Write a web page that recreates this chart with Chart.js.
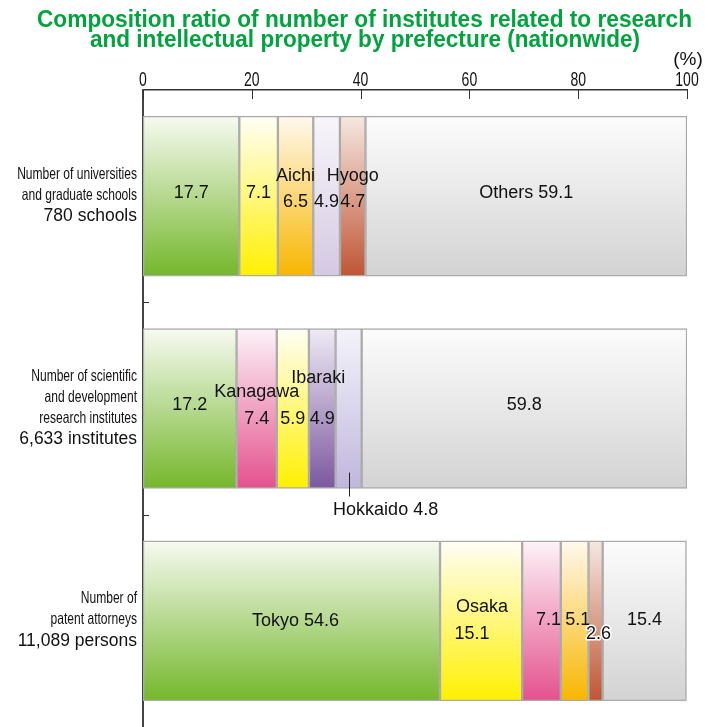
<!DOCTYPE html>
<html>
<head>
<meta charset="utf-8">
<script src="https://cdn.jsdelivr.net/npm/chart.js@4.4.1/dist/chart.umd.min.js"></script>
<style>
  html, body { margin: 0; padding: 0; background: #fff; }
  #wrap { width: 705px; height: 727px; position: relative; }
</style>
</head>
<body>
<div id="wrap"><canvas id="ratioChart"></canvas></div>
<script>
// ---- data ----
const categories = ["Universities", "Research institutes", "Patent attorneys"];
const categoryLines = [
  ["Number of universities", "and graduate schools", "780 schools"],
  ["Number of scientific", "and development", "research institutes", "6,633 institutes"],
  ["Number of", "patent attorneys", "11,089 persons"]
];
const univNames = ["Tokyo", "Osaka", "Aichi", "Hokkaido", "Hyogo", "Others"];
const univValues = [17.7, 7.1, 6.5, 4.9, 4.7, 59.1];
const researchNames = ["Tokyo", "Kanagawa", "Osaka", "Ibaraki", "Hokkaido", "Others"];
const researchValues = [17.2, 7.4, 5.9, 4.9, 4.8, 59.8];
const patentNames = ["Tokyo", "Osaka", "Kanagawa", "Aichi", "Hyogo", "Others"];
const patentValues = [54.6, 15.1, 7.1, 5.1, 2.6, 15.4];
const xTicks = [0, 20, 40, 60, 80, 100];
const titleLines = [
  "Composition ratio of number of institutes related to research",
  "and intellectual property by prefecture (nationwide)"
];

const namesByBar = [univNames, researchNames, patentNames];
const valuesByBar = [univValues, researchValues, patentValues];

// gradient colours, top -> bottom
const palette = {
  Tokyo: ["#f7faf2", "#74b72b"],
  Osaka: ["#fffef6", "#fff000"],
  Aichi: ["#fff9ee", "#f8b600"],
  Kanagawa: ["#fdf3f8", "#e4518d"],
  Hyogo: ["#f6e8e0", "#bf5535"],
  Ibaraki: ["#efebf5", "#7a589d"],
  Hokkaido: ["#f4f3fa", "#bfb7dc"],
  Others: ["#fcfcfc", "#d3d3d3"]
};
const paletteOverride = { "0-3": ["#f8f6fb", "#d5c9e2"] };

// how each segment is labelled ({n} name, {v} value); dy/dx from segment centre
const labelLayout = [
  [
    { lines: ["{v}"], dy: [-3] },
    { lines: ["{v}"], dy: [-3] },
    { lines: ["{n}", "{v}"], dy: [-20, 6] },
    { lines: ["{v}"], dy: [6] },
    { lines: ["{n}", "{v}"], dy: [-20, 6] },
    { lines: ["{n} {v}"], dy: [-3] }
  ],
  [
    { lines: ["{v}"], dy: [-3] },
    { lines: ["{n}", "{v}"], dy: [-16, 11] },
    { lines: ["{v}"], dy: [11] },
    { lines: ["{n}", "{v}"], dy: [-30, 11], dx: [-4, 0] },
    { outside: true },
    { lines: ["{v}"], dy: [-3] }
  ],
  [
    { lines: ["{n} {v}"], dy: [0], dx: [4] },
    { lines: ["{n}", "{v}"], dy: [-14, 13], dx: [1, -9] },
    { lines: ["{v}"], dy: [-1], dx: [7] },
    { lines: ["{v}"], dy: [-1], dx: [3] },
    { lines: ["{v}"], dy: [13], dx: [3], halo: true },
    { lines: ["{v}"], dy: [-1] }
  ]
];

const BAR_H = 160;

function segColor(context) {
  const chart = context.chart;
  if (!chart.chartArea) return null;
  const i = context.dataIndex;
  const r = context.datasetIndex;
  const c = paletteOverride[i + "-" + r] || palette[namesByBar[i][r]];
  const y = chart.scales.y.getPixelForValue(i);
  const g = chart.ctx.createLinearGradient(0, y - BAR_H / 2, 0, y + BAR_H / 2);
  g.addColorStop(0, c[0]);
  g.addColorStop(1, c[1]);
  return g;
}

const datasets = [];
for (let r = 0; r < 6; r++) {
  datasets.push({
    label: "rank " + (r + 1),
    data: valuesByBar.map(v => v[r]),
    backgroundColor: segColor,
    borderColor: "#ababab",
    borderWidth: 1.5,
    borderSkipped: false,
    barThickness: BAR_H
  });
}

const FONT = "'Liberation Sans', Arial, sans-serif";

// draws title, axis ticks, category labels and segment labels
const decorPlugin = {
  id: "decor",
  afterDraw(chart) {
    const ctx = chart.ctx;
    const xs = chart.scales.x;
    const ys = chart.scales.y;
    const area = chart.chartArea;

    ctx.save();
    // title
    ctx.fillStyle = "#00a33e";
    ctx.font = "bold 23px " + FONT;
    ctx.textAlign = "center";
    ctx.textBaseline = "alphabetic";
    ctx.fillText(titleLines[0], 364.5, 27, 655);
    ctx.fillText(titleLines[1], 365, 46.5, 550);

    // (%) unit
    ctx.fillStyle = "#111";
    ctx.font = "19px " + FONT;
    ctx.fillText("(%)", area.right + 1, 65);

    // x tick labels & tick marks (marks go into the plot)
    ctx.strokeStyle = "#333";
    ctx.lineWidth = 1;
    xTicks.forEach(v => {
      const px = xs.getPixelForValue(v);
      ctx.beginPath();
      ctx.moveTo(Math.round(px) + 0.5, area.top);
      ctx.lineTo(Math.round(px) + 0.5, area.top + 9);
      ctx.stroke();
      ctx.save();
      ctx.translate(px, 86);
      ctx.scale(0.7, 1);
      ctx.font = "20px " + FONT;
      ctx.textAlign = "center";
      ctx.fillText(String(v), 0, 0);
      ctx.restore();
    });

    // small ticks between categories on the y axis
    for (let i = 0; i < categories.length - 1; i++) {
      const my = (ys.getPixelForValue(i) + ys.getPixelForValue(i + 1)) / 2;
      ctx.beginPath();
      ctx.moveTo(area.left, Math.round(my) + 0.5);
      ctx.lineTo(area.left + 6, Math.round(my) + 0.5);
      ctx.stroke();
    }

    // category labels
    ctx.textAlign = "right";
    ctx.textBaseline = "middle";
    categoryLines.forEach((lines, i) => {
      const cy = ys.getPixelForValue(i);
      const n = lines.length;
      lines.forEach((t, k) => {
        const ly = cy + (k - (n - 1) / 2) * 21 - 1;
        if (k === n - 1) {
          ctx.font = "17.5px " + FONT;
          ctx.fillText(t, area.left - 6, ly);
        } else {
          ctx.save();
          ctx.translate(area.left - 6, ly);
          ctx.scale(0.73, 1);
          ctx.font = "16.5px " + FONT;
          ctx.fillText(t, 0, 0);
          ctx.restore();
        }
      });
    });

    // segment labels
    ctx.textAlign = "center";
    ctx.font = "18px " + FONT;
    chart.data.datasets.forEach((ds, r) => {
      const meta = chart.getDatasetMeta(r);
      meta.data.forEach((el, i) => {
        const lay = labelLayout[i][r];
        const name = namesByBar[i][r];
        const val = valuesByBar[i][r].toFixed(1);
        const cx = (el.x + el.base) / 2;
        const cy = el.y;
        ctx.fillStyle = "#111";
        if (lay.outside) {
          const bottom = cy + BAR_H / 2;
          ctx.strokeStyle = "#222";
          ctx.lineWidth = 1;
          ctx.beginPath();
          ctx.moveTo(Math.round(cx) + 0.5, bottom - 16);
          ctx.lineTo(Math.round(cx) + 0.5, bottom + 8);
          ctx.stroke();
          ctx.fillText(name + " " + val, cx + 37, bottom + 22);
          return;
        }
        lay.lines.forEach((tpl, k) => {
          const t = tpl.replace("{n}", name).replace("{v}", val);
          const tx = cx + (lay.dx ? lay.dx[k] : 0);
          const ty = cy + lay.dy[k];
          if (lay.halo) {
            ctx.strokeStyle = "#fff";
            ctx.lineWidth = 3;
            ctx.lineJoin = "round";
            ctx.strokeText(t, tx, ty);
          }
          ctx.fillText(t, tx, ty);
        });
      });
    });
    ctx.restore();
  }
};

new Chart(document.getElementById("ratioChart"), {
  type: "bar",
  data: { labels: categories, datasets: datasets },
  plugins: [decorPlugin],
  options: {
    indexAxis: "y",
    responsive: true,
    maintainAspectRatio: false,
    animation: false,
    layout: { padding: { top: 50, right: 18, bottom: 0, left: 0 } },
    plugins: {
      legend: { display: false },
      title: { display: false },
      tooltip: { enabled: false }
    },
    scales: {
      x: {
        position: "top",
        stacked: true,
        min: 0,
        max: 100,
        afterFit: s => { s.height = 40; },
        ticks: { display: false, stepSize: 20 },
        grid: { display: false },
        border: { display: true, color: "#333", width: 1.5 }
      },
      y: {
        stacked: true,
        afterFit: s => { s.width = 143; },
        ticks: { display: false },
        grid: { display: false },
        border: { display: true, color: "#444", width: 2 }
      }
    }
  }
});
</script>
</body>
</html>
